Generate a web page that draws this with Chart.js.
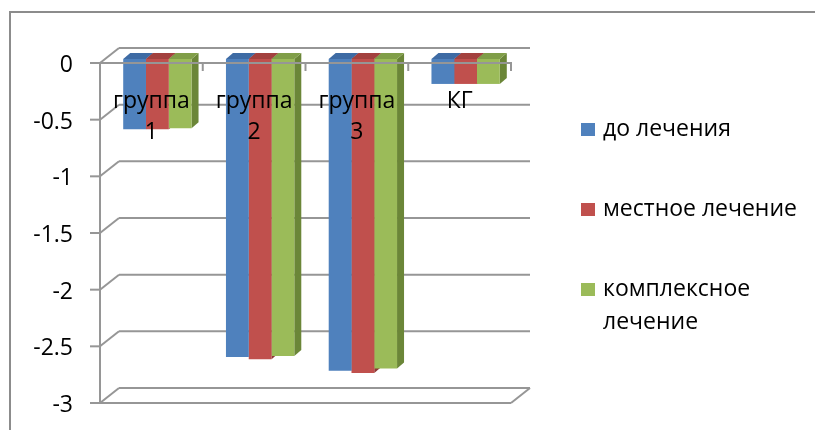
<!DOCTYPE html>
<html><head><meta charset="utf-8">
<script src="https://cdn.jsdelivr.net/npm/chart.js@4.4.1/dist/chart.umd.min.js"></script>
<style>html,body{margin:0;padding:0;background:#fff;}#wrap{position:relative;width:815px;height:430px;}</style>
</head><body><div id="wrap"><canvas id="c" width="815" height="430"></canvas></div>
<script>
// ---- data ----
const categories = [['группа','1'], ['группа','2'], ['группа','3'], ['КГ']];
const seriesNames = ['до лечения', 'местное лечение', 'комплексное лечение'];
const legendLines = [['до лечения'], ['местное лечение'], ['комплексное', 'лечение']];
const beforeTreatment  = [-0.62, -2.63, -2.75, -0.22];
const localTreatment   = [-0.62, -2.65, -2.77, -0.22];
const complexTreatment = [-0.61, -2.62, -2.73, -0.22];
const yTickValues = [0, -0.5, -1, -1.5, -2, -2.5, -3];
const yTickLabels = ['0', '-0.5', '-1', '-1.5', '-2', '-2.5', '-3'];

// ---- styles ----
const seriesValues = [beforeTreatment, localTreatment, complexTreatment];
const colors     = ['#4f81bd', '#c0504d', '#9bbb59'];
const topColors  = ['#3e6ba4', '#a3413e', '#809e48'];
const sideColors = ['#365d8f', '#8d3835', '#6b8638'];
const FONT_FAMILY = '"Open Sans", "Noto Sans", sans-serif';
const FS = 23;
const GRID = '#969696';
const WALL = {dx: 19, dy: -15};
const BAR_SHIFT = {dx: 6, dy: -4};
const BAR_DEPTH = {dx: 7, dy: -6};

function line(c, x1, y1, x2, y2) { c.beginPath(); c.moveTo(x1, y1); c.lineTo(x2, y2); c.stroke(); }
function poly(c, pts, fill) { c.beginPath(); c.moveTo(pts[0][0], pts[0][1]); for (let i = 1; i < pts.length; i++) c.lineTo(pts[i][0], pts[i][1]); c.closePath(); c.fillStyle = fill; c.fill(); }

const threeD = {
  id: 'threeD',
  beforeDraw(chart) {
    const c = chart.ctx;
    c.save();
    c.strokeStyle = '#8c8c8c'; c.lineWidth = 2;
    c.strokeRect(10, 12, 1000, 1000);
    c.restore();
  },
  beforeDatasetsDraw(chart) {
    const c = chart.ctx, a = chart.chartArea, ys = chart.scales.y;
    c.save();
    c.strokeStyle = GRID; c.lineWidth = 2;
    yTickValues.forEach(v => {
      const y = ys.getPixelForValue(v);
      line(c, a.left + WALL.dx, y + WALL.dy, a.right + WALL.dx, y + WALL.dy);
      line(c, a.left, y, a.left + WALL.dx, y + WALL.dy);
      line(c, a.left - 10, y, a.left, y);
    });
    line(c, a.left, ys.getPixelForValue(0), a.left, ys.getPixelForValue(-3));
    const yb = ys.getPixelForValue(-3);
    line(c, a.left - 10, yb, a.right, yb);
    line(c, a.right, yb, a.right + WALL.dx, yb + WALL.dy);
    c.restore();

    c.save();
    c.translate(BAR_SHIFT.dx, BAR_SHIFT.dy);
    for (let d = 0; d < seriesValues.length; d++) {
      const meta = chart.getDatasetMeta(d);
      meta.data.forEach(el => {
        const L = el.x - el.width / 2, R = el.x + el.width / 2;
        const T = Math.min(el.y, el.base), B = Math.max(el.y, el.base);
        poly(c, [[R, T], [R + BAR_DEPTH.dx, T + BAR_DEPTH.dy], [R + BAR_DEPTH.dx, B + BAR_DEPTH.dy], [R, B]], sideColors[d]);
        poly(c, [[L, T], [R, T], [R + BAR_DEPTH.dx, T + BAR_DEPTH.dy], [L + BAR_DEPTH.dx, T + BAR_DEPTH.dy]], topColors[d]);
      });
    }
    c.restore();
    c.save();
    c.translate(BAR_SHIFT.dx, BAR_SHIFT.dy);
  },
  afterDatasetsDraw(chart) {
    const c = chart.ctx, a = chart.chartArea, ys = chart.scales.y, xs = chart.scales.x;
    c.restore();
    c.save();
    const y0 = ys.getPixelForValue(0);
    c.strokeStyle = GRID; c.lineWidth = 2;
    line(c, a.left - 10, y0, a.right, y0);
    for (let i = 0; i < categories.length; i++) {
      const xb = i < categories.length - 1 ? (xs.getPixelForValue(i) + xs.getPixelForValue(i + 1)) / 2 : a.right;
      line(c, xb, y0 - 1, xb, y0 + 8);
    }
    c.fillStyle = '#000';
    c.font = FS + 'px ' + FONT_FAMILY;
    c.textAlign = 'center'; c.textBaseline = 'alphabetic';
    categories.forEach((lab, i) => {
      const x = xs.getPixelForValue(i);
      lab.forEach((t, k) => c.fillText(t, x, y0 + 45 + k * 30.5));
    });
    const legendBase = [136, 216, 296];
    c.textAlign = 'left';
    legendLines.forEach((lines, i) => {
      c.fillStyle = colors[i];
      c.fillRect(581, legendBase[i] - 13, 14, 13);
      c.fillStyle = '#000';
      lines.forEach((t, k) => c.fillText(t, 603, legendBase[i] + k * 33));
    });
    c.restore();
  }
};

new Chart(document.getElementById('c'), {
  type: 'bar',
  data: {
    labels: categories,
    datasets: seriesNames.map((n, i) => ({
      label: n, data: seriesValues[i], backgroundColor: colors[i], borderWidth: 0,
      categoryPercentage: 0.665, barPercentage: 1, clip: false
    }))
  },
  options: {
    responsive: false, animation: false, devicePixelRatio: 1,
    layout: {padding: {left: 0, right: 304, top: 63, bottom: 27}},
    plugins: {legend: {display: false}, tooltip: {enabled: false}},
    scales: {
      x: {display: false},
      y: {
        min: -3, max: 0,
        afterBuildTicks: s => { s.ticks = yTickValues.map(v => ({value: v})); },
        afterFit: s => { s.width = 100; s.paddingTop = 0; s.paddingBottom = 0; },
        grid: {display: false, drawTicks: false},
        border: {display: false},
        ticks: {
          padding: 27, labelOffset: 2.5, color: '#000', font: {family: FONT_FAMILY, size: FS},
          callback: v => { const k = yTickValues.indexOf(v); return k >= 0 ? yTickLabels[k] : ''; }
        }
      }
    }
  },
  plugins: [threeD]
});
</script></body></html>
